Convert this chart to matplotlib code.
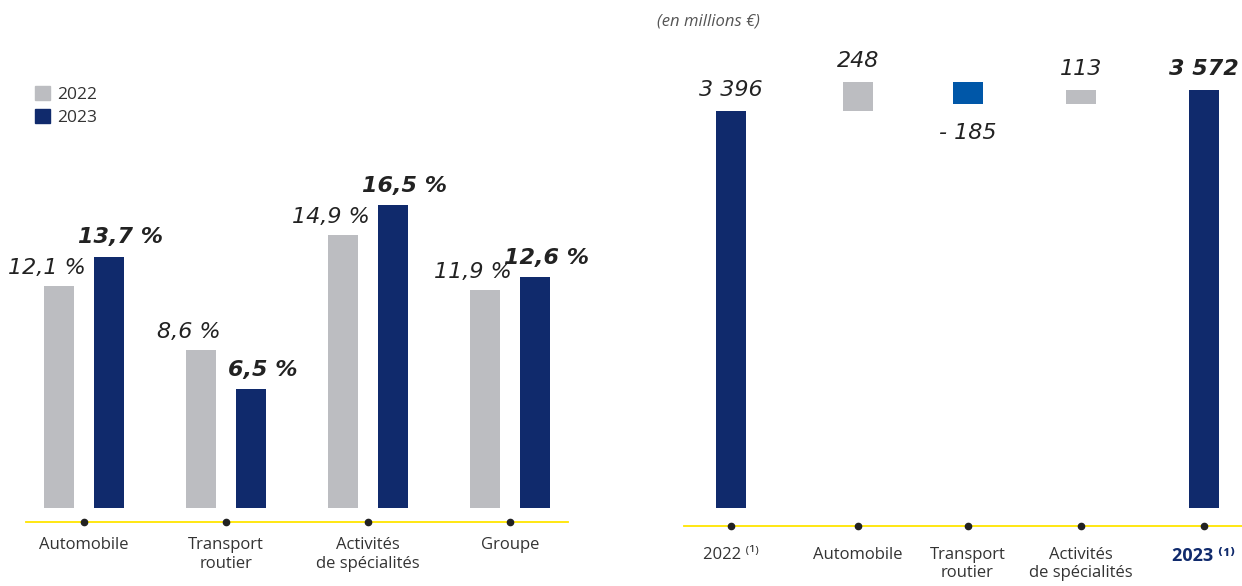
import numpy as np
import matplotlib
matplotlib.use("Agg")
import matplotlib.pyplot as plt
from matplotlib.patches import Patch

# donnees - marge par activite (gauche)
segments = ["Automobile", "Transport\nroutier", "Activités\nde spécialités", "Groupe"]
marge_2022 = [12.1, 8.6, 14.9, 11.9]
marge_2023 = [13.7, 6.5, 16.5, 12.6]

# donnees - pont du resultat (droite), en millions d'euros
pont_labels = ["2022 ⁽¹⁾", "Automobile", "Transport\nroutier", "Activités\nde spécialités", "2023 ⁽¹⁾"]
pont_valeurs = [3396, 248, -185, 113, 3572]
pont_total = [True, False, False, False, True]

# couleurs
GRIS = "#BCBDC1"
MARINE = "#102A6C"
BLEU = "#0057A8"
JAUNE = "#FFE500"
TEXTE = "#333333"
VALEUR = "#222222"

plt.rcParams["font.family"] = ["Open Sans", "DejaVu Sans"]

W, H = 1242, 586
fig = plt.figure(figsize=(W / 100, H / 100), dpi=100)

def fmt_pct(v):
    return f"{v:.1f}".replace(".", ",") + " %"

def fmt_m(v):
    s = f"{abs(v):,}".replace(",", " ")
    return ("- " + s) if v < 0 else s

# ---------- graphique gauche ----------
ax1 = fig.add_axes([26 / W, (H - 522) / H, 542 / W, (522 - 150) / H])
x = np.arange(len(segments))
off, bw = 0.176, 0.211
ax1.bar(x - off, marge_2022, width=bw, color=GRIS)
ax1.bar(x + off, marge_2023, width=bw, color=MARINE)
y0 = -14 / 18.35
ax1.set_ylim(y0, (508 - 150) / 18.35)
ax1.set_xlim(-0.408, 3.408)
for xi, v in zip(x, marge_2022):
    ax1.annotate(fmt_pct(v), (xi - off, v), xytext=(-8.5, 8.5), textcoords="offset points",
                 ha="center", va="baseline", fontsize=16, style="italic",
                 family="DejaVu Sans", color=VALEUR)
for xi, v in zip(x, marge_2023):
    ax1.annotate(fmt_pct(v), (xi + off, v), xytext=(8.5, 9.5), textcoords="offset points",
                 ha="center", va="baseline", fontsize=16, style="italic", weight="bold",
                 family="DejaVu Sans", color=VALEUR)
ax1.plot(x, np.full(len(x), y0), "o", ms=4.5, color=VALEUR, clip_on=False, zorder=5)
ax1.set_xticks(x, segments)
ax1.set_yticks([])
ax1.tick_params(axis="x", length=0, pad=11, labelsize=12, labelcolor=TEXTE)
for s in ["top", "left", "right"]:
    ax1.spines[s].set_visible(False)
ax1.spines["bottom"].set_color(JAUNE)
ax1.spines["bottom"].set_linewidth(1.3)

fig.legend(handles=[Patch(color=GRIS, label="2022"), Patch(color=MARINE, label="2023")],
           loc="upper left", bbox_to_anchor=(35 / W, 1 - 86 / H), frameon=False,
           fontsize=12.5, handlelength=0.85, handleheight=0.85, handletextpad=0.45,
           labelspacing=0.35, borderaxespad=0, borderpad=0, labelcolor=TEXTE)

# ---------- graphique droite (pont) ----------
ax2 = fig.add_axes([684 / W, (H - 526) / H, (W - 684) / W, (526 - 40) / H])
xp = [0, 1.074, 2.0, 2.96, 4.0]
k = 397 / 3396
bas, hauts, couleurs = [], [], []
cumul = 0
for v, tot in zip(pont_valeurs, pont_total):
    if tot:
        bas.append(0)
        hauts.append(v)
        couleurs.append(MARINE)
        cumul = v
    else:
        bas.append(cumul)
        hauts.append(v)
        couleurs.append(GRIS if v > 0 else BLEU)
        cumul += v
ax2.bar(xp, hauts, bottom=bas, width=30 / 118.25, color=couleurs)
y0r = -18 / k
ax2.set_ylim(y0r, (508 - 40) / k)
ax2.set_xlim(-47 / 118.25, (W - 731) / 118.25)
for xi, b, h, tot in zip(xp, bas, hauts, pont_total):
    top = b + max(h, 0)
    if h >= 0:
        ax2.annotate(fmt_m(h), (xi, top), xytext=(0, 11), textcoords="offset points",
                     ha="center", va="baseline", fontsize=16, style="italic",
                     weight="bold" if xi == xp[-1] else "normal",
                     family="DejaVu Sans", color=VALEUR)
    else:
        ax2.annotate(fmt_m(h), (xi, b + h), xytext=(0, -25.5), textcoords="offset points",
                     ha="center", va="baseline", fontsize=16, style="italic",
                     family="DejaVu Sans", color=VALEUR)
ax2.plot(xp, np.full(len(xp), y0r), "o", ms=4.5, color=VALEUR, clip_on=False, zorder=5)
ax2.set_xticks(xp, pont_labels)
ax2.set_yticks([])
ax2.tick_params(axis="x", length=0, pad=15, labelsize=12, labelcolor=TEXTE)
lbl = ax2.get_xticklabels()[-1]
lbl.set_color(MARINE)
lbl.set_fontweight("bold")
lbl.set_fontsize(13)
for s in ["top", "left", "right"]:
    ax2.spines[s].set_visible(False)
ax2.spines["bottom"].set_color(JAUNE)
ax2.spines["bottom"].set_linewidth(1.3)

fig.text(657 / W, 1 - 22 / H, "(en millions €)", style="italic", fontsize=12,
         color="#555555", va="center", ha="left")

plt.savefig("out.png", dpi=100)
